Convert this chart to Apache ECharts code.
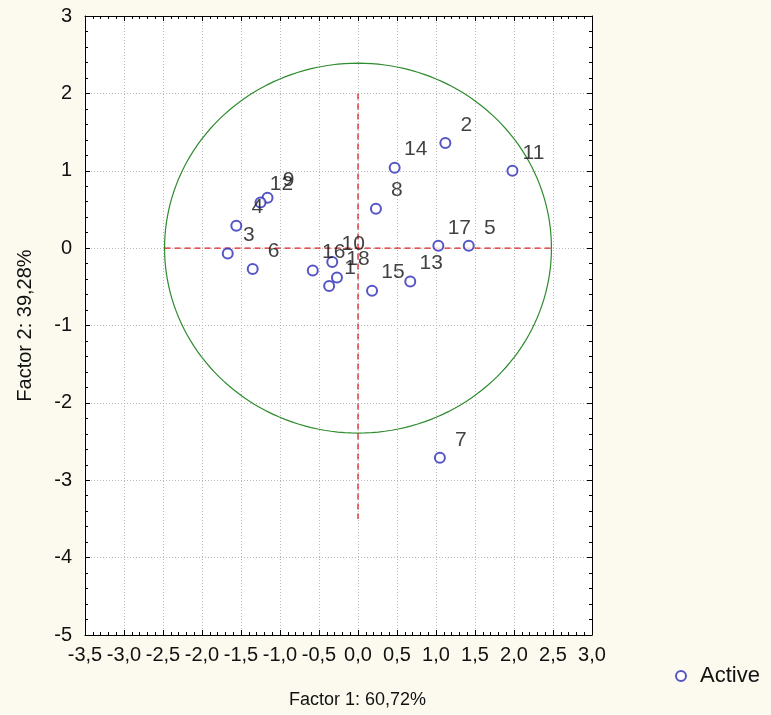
<!DOCTYPE html>
<html><head><meta charset="utf-8">
<script src="https://cdn.jsdelivr.net/npm/echarts@6/dist/echarts.min.js"></script>
<style>html,body{margin:0;padding:0;background:#FCFAEF;}#c{width:771px;height:715px;}</style>
</head><body><div id="c"></div>
<script>
// Data
const pointNames = ['1','2','3','4','5','6','7','8','9','10','11','12','13','14','15','16','17','18'];
const factor1 = [-0.37, 1.12, -1.67, -1.56, 1.42, -1.35, 1.05, 0.23, -1.16, -0.33, 1.98, -1.25, 0.67, 0.47, 0.18, -0.58, 1.03, -0.27];
const factor2 = [-0.49, 1.36, -0.07, 0.29, 0.03, -0.27, -2.71, 0.51, 0.65, -0.18, 1.00, 0.59, -0.43, 1.04, -0.55, -0.29, 0.03, -0.38];
const xRange = [-3.5, 3.0], xStep = 0.5;
const yRange = [-5, 3], yStep = 1;
const circleRadius = [2.48, 2.39];   // x and y radius of the unit circle
const hLineX = [-2.48, 2.48], hLineY = [0, 0];
const vLineX = [0, 0], vLineY = [2, -3.5];
const xTitle = 'Factor 1: 60,72%';
const yTitle = 'Factor 2: 39,28%';
const seriesName = 'Active';

const FONT = '"Liberation Sans", Arial, sans-serif';
const chart = echarts.init(document.getElementById('c'));
const fmtX = v => v.toFixed(1).replace('.', ',');
const tickBase = {inside: true, length: 5, lineStyle: {color: '#000'}};
const minorBase = {show: true, splitNumber: 5, length: 3, lineStyle: {color: '#000'}};
const lineBase = {show: true, onZero: false, lineStyle: {color: '#000', width: 1}};

chart.setOption({
  backgroundColor: '#FCFAEF',
  animation: false,
  grid: {left: 85, right: 179, top: 16, bottom: 80, show: true, backgroundColor: '#fff', borderWidth: 0},
  legend: {
    data: [{name: seriesName, icon: 'emptyCircle'}],
    left: 670, top: 660, itemWidth: 10, itemHeight: 10, itemGap: 14,
    textStyle: {fontFamily: FONT, fontSize: 22, color: '#111', padding: [0, 0, 0, 9]}
  },
  xAxis: [{
    type: 'value', min: xRange[0], max: xRange[1], interval: xStep,
    axisLine: lineBase, axisTick: tickBase, minorTick: minorBase,
    axisLabel: {formatter: fmtX, fontFamily: FONT, fontSize: 20, color: '#111', margin: 10},
    splitLine: {show: true, lineStyle: {color: '#b8b8b8', type: [1, 2]}},
    name: xTitle, nameLocation: 'middle', nameGap: 56,
    nameTextStyle: {fontFamily: FONT, fontSize: 18, color: '#111', padding: [0, 0, 0, 38]}
  }, {
    type: 'value', position: 'top', min: xRange[0], max: xRange[1], interval: xStep,
    axisLine: lineBase, axisTick: tickBase, minorTick: minorBase,
    axisLabel: {show: false}, splitLine: {show: false}
  }],
  yAxis: [{
    type: 'value', min: yRange[0], max: yRange[1], interval: yStep,
    axisLine: lineBase, axisTick: tickBase, minorTick: minorBase,
    axisLabel: {fontFamily: FONT, fontSize: 20, color: '#111', margin: 13},
    splitLine: {show: true, lineStyle: {color: '#b8b8b8', type: [1, 2]}},
    name: yTitle, nameLocation: 'middle', nameGap: 50, nameRotate: 90,
    nameTextStyle: {fontFamily: FONT, fontSize: 20, color: '#111'}
  }, {
    type: 'value', position: 'right', min: yRange[0], max: yRange[1], interval: yStep,
    axisLine: lineBase, axisTick: tickBase, minorTick: minorBase,
    axisLabel: {show: false}, splitLine: {show: false}
  }],
  series: [{
    type: 'custom', silent: true, z: 2,
    data: [[0, 0]],
    renderItem: function (params, api) {
      const pts = [];
      for (let i = 0; i <= 180; i++) {
        const t = i / 180 * Math.PI * 2;
        pts.push(api.coord([circleRadius[0] * Math.cos(t), circleRadius[1] * Math.sin(t)]));
      }
      return {type: 'polyline', shape: {points: pts}, style: {stroke: '#2E8B2E', lineWidth: 1.2, fill: null}};
    }
  }, {
    type: 'line', silent: true, symbol: 'none', z: 3,
    data: hLineX.map((x, i) => [x, hLineY[i]]),
    lineStyle: {color: '#E02020', width: 1.3, type: [6, 4]}
  }, {
    type: 'line', silent: true, symbol: 'none', z: 3,
    data: vLineX.map((x, i) => [x, vLineY[i]]),
    lineStyle: {color: '#E02020', width: 1.3, type: [6, 4]}
  }, {
    name: seriesName, type: 'scatter', z: 5,
    symbol: 'emptyCircle', symbolSize: 10,
    itemStyle: {color: '#2A2AB8', borderWidth: 1.2},
    data: pointNames.map((n, i) => ({name: n, value: [factor1[i], factor2[i]]})),
    label: {show: true, formatter: '{b}', position: 'inside', offset: [21, -18],
      fontFamily: FONT, fontSize: 21, color: '#111'}
  }]
});
</script></body></html>
